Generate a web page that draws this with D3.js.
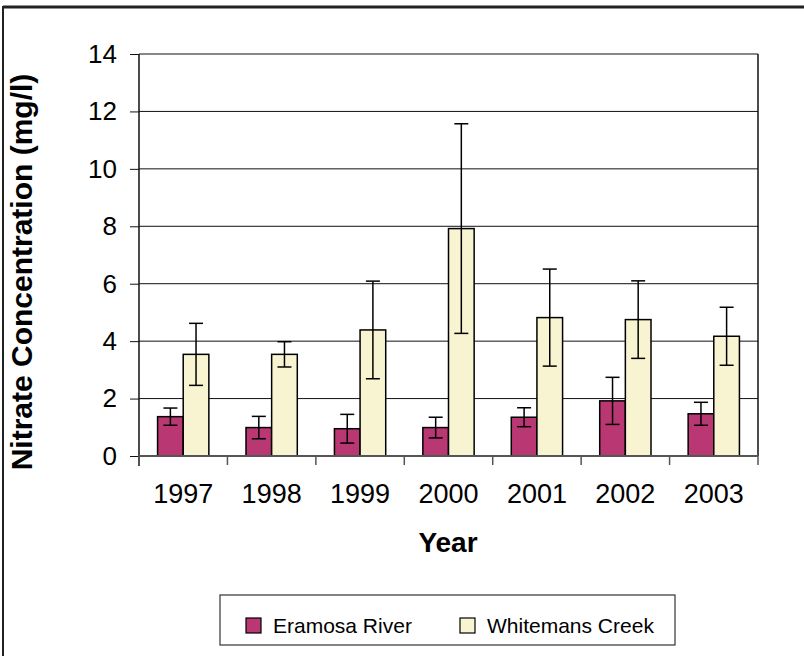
<!DOCTYPE html>
<html>
<head>
<meta charset="utf-8">
<script src="https://cdn.jsdelivr.net/npm/d3@7"></script>
<style>
  body { margin: 0; background: #fff; }
  svg text { font-family: Arial, "Liberation Sans", sans-serif; fill: #000; }
</style>
</head>
<body>
<div id="chart"></div>
<script>
"use strict";

// === DATA ===
const years = ["1997", "1998", "1999", "2000", "2001", "2002", "2003"];
const seriesNames = ["Eramosa River", "Whitemans Creek"];
const eramosa = [1.37, 0.99, 0.95, 0.99, 1.35, 1.92, 1.47];
const eramosaErr = [0.30, 0.39, 0.50, 0.36, 0.33, 0.82, 0.40];
const whitemans = [3.54, 3.54, 4.39, 7.92, 4.82, 4.75, 4.17];
const whitemansErr = [1.08, 0.44, 1.70, 3.65, 1.69, 1.35, 1.01];
const yTicks = [0, 2, 4, 6, 8, 10, 12, 14];

const colors = ["#b93772", "#f8f4d2"];

const rows = years.map((y, i) => ({
  year: y,
  vals: [
    { s: 0, v: eramosa[i], e: eramosaErr[i] },
    { s: 1, v: whitemans[i], e: whitemansErr[i] }
  ]
}));

// === SVG SETUP ===
const width = 804, height = 656;
const plot = { left: 139, right: 758, top: 54, bottom: 456 };

const svg = d3.select("#chart")
  .append("svg")
  .attr("width", width)
  .attr("height", height);

// outer frame (top and left edges visible)
svg.append("line")
  .attr("x1", 3).attr("x2", width).attr("y1", 7).attr("y2", 7)
  .attr("stroke", "#222").attr("stroke-width", 3);
svg.append("line")
  .attr("x1", 3).attr("x2", 3).attr("y1", 6).attr("y2", height)
  .attr("stroke", "#222").attr("stroke-width", 2);

// === SCALES ===
const x = d3.scaleBand()
  .domain(years)
  .range([plot.left, plot.right])
  .paddingInner(0.42)
  .paddingOuter(0.21);

const x1 = d3.scaleBand()
  .domain([0, 1])
  .range([0, x.bandwidth()]);

const y = d3.scaleLinear()
  .domain([0, 14])
  .range([plot.bottom, plot.top]);

// === GRID ===
svg.append("g")
  .selectAll("line")
  .data(yTicks.filter(d => d > 0))
  .join("line")
  .attr("x1", plot.left).attr("x2", plot.right)
  .attr("y1", d => y(d)).attr("y2", d => y(d))
  .attr("stroke", "#111").attr("stroke-width", 1);

// right border of plot area
svg.append("line")
  .attr("x1", plot.right).attr("x2", plot.right)
  .attr("y1", plot.top).attr("y2", plot.bottom)
  .attr("stroke", "#111").attr("stroke-width", 1.5);

// === BARS ===
const groups = svg.append("g")
  .selectAll("g")
  .data(rows)
  .join("g")
  .attr("transform", d => `translate(${x(d.year)},0)`);

groups.selectAll("rect")
  .data(d => d.vals)
  .join("rect")
  .attr("x", d => x1(d.s))
  .attr("y", d => y(d.v))
  .attr("width", x1.bandwidth())
  .attr("height", d => y(0) - y(d.v))
  .attr("fill", d => colors[d.s])
  .attr("stroke", "#000")
  .attr("stroke-width", 1.5);

// error bars
const capW = 7;
groups.each(function (row) {
  const g = d3.select(this);
  row.vals.forEach(d => {
    const cx = x1(d.s) + x1.bandwidth() / 2;
    const lo = y(d.v - d.e), hi = y(d.v + d.e);
    g.append("line")
      .attr("x1", cx).attr("x2", cx).attr("y1", lo).attr("y2", hi)
      .attr("stroke", "#000").attr("stroke-width", 1.5);
    [lo, hi].forEach(yy => {
      g.append("line")
        .attr("x1", cx - capW).attr("x2", cx + capW)
        .attr("y1", yy).attr("y2", yy)
        .attr("stroke", "#000").attr("stroke-width", 1.5);
    });
  });
});

// === AXES ===
const yAxis = svg.append("g")
  .attr("transform", `translate(${plot.left},0)`)
  .call(d3.axisLeft(y).tickValues(yTicks).tickSize(9).tickSizeOuter(0).tickPadding(13));
yAxis.select(".domain").attr("stroke", "#111").attr("stroke-width", 1.5)
  .attr("d", `M0,${plot.top}V${plot.bottom + 10}`);
yAxis.selectAll(".tick line").attr("stroke", "#111");
yAxis.selectAll(".tick text")
  .attr("font-size", "26px")
  .style("font-family", "Arial, 'Liberation Sans', sans-serif");

// x axis baseline + category boundary ticks
svg.append("line")
  .attr("x1", plot.left).attr("x2", plot.right)
  .attr("y1", plot.bottom).attr("y2", plot.bottom)
  .attr("stroke", "#555").attr("stroke-width", 2);

svg.append("g")
  .selectAll("line")
  .data(d3.range(years.length + 1))
  .join("line")
  .attr("x1", i => plot.left + i * x.step())
  .attr("x2", i => plot.left + i * x.step())
  .attr("y1", plot.bottom).attr("y2", plot.bottom + 9)
  .attr("stroke", "#555").attr("stroke-width", 1.5);

const xAxis = svg.append("g")
  .attr("transform", `translate(0,${plot.bottom})`)
  .call(d3.axisBottom(x).tickSize(0).tickPadding(28));
xAxis.select(".domain").remove();
xAxis.selectAll(".tick text")
  .attr("font-size", "27px")
  .style("font-family", "Arial, 'Liberation Sans', sans-serif");

// === AXIS TITLES ===
svg.append("text")
  .attr("x", 448)
  .attr("y", 552)
  .attr("text-anchor", "middle")
  .attr("font-size", "28px")
  .attr("font-weight", "bold")
  .text("Year");

svg.append("text")
  .attr("transform", "rotate(-90)")
  .attr("x", -272)
  .attr("y", 32)
  .attr("text-anchor", "middle")
  .attr("font-size", "30px")
  .attr("font-weight", "bold")
  .text("Nitrate Concentration (mg/l)");

// === LEGEND ===
svg.append("rect")
  .attr("x", 220).attr("y", 595)
  .attr("width", 455).attr("height", 50)
  .attr("fill", "#fff")
  .attr("stroke", "#333").attr("stroke-width", 1.2);

const legendX = [246, 460];
seriesNames.forEach((name, i) => {
  svg.append("rect")
    .attr("x", legendX[i]).attr("y", 618)
    .attr("width", 15).attr("height", 15)
    .attr("fill", colors[i])
    .attr("stroke", "#000").attr("stroke-width", 1.2);
  svg.append("text")
    .attr("x", legendX[i] + 27)
    .attr("y", 633)
    .attr("font-size", "21px")
    .text(name);
});
</script>
</body>
</html>
